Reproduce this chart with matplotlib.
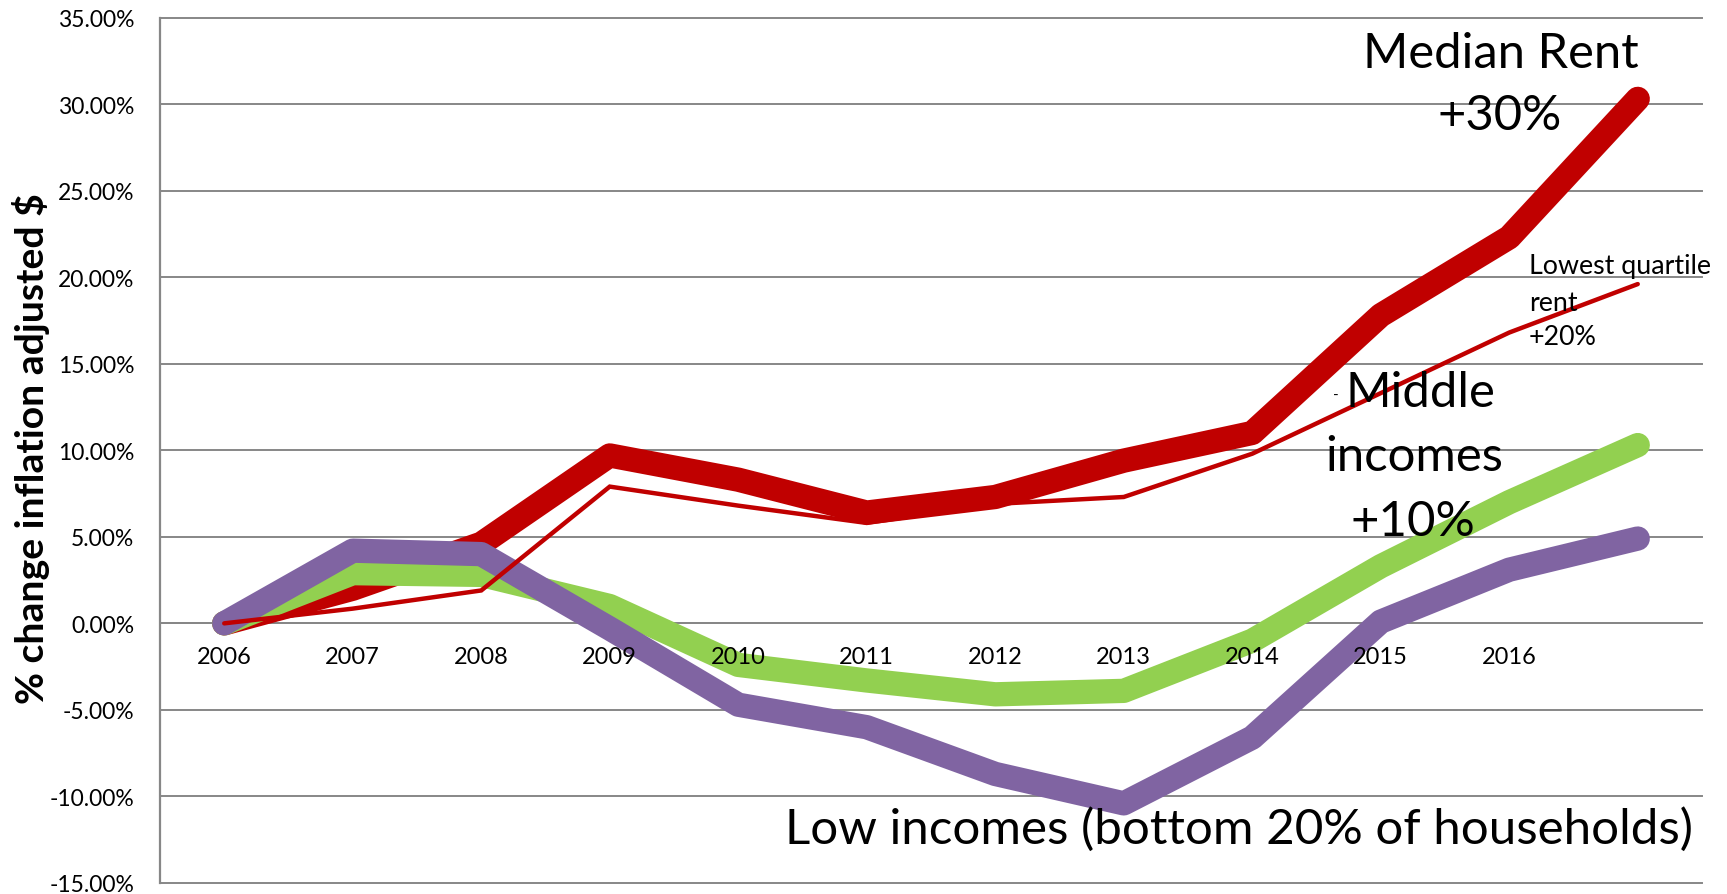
import matplotlib
matplotlib.use('Agg')
import matplotlib.pyplot as plt
import numpy as np

plt.rcParams['font.family'] = ['Lato', 'DejaVu Sans']

# ---- data (percent change, inflation adjusted $) ----
years = ['2006', '2007', '2008', '2009', '2010', '2011', '2012', '2013', '2014', '2015', '2016', '']
median_rent = [0.0, 2.0, 4.6, 9.7, 8.3, 6.4, 7.3, 9.4, 11.0, 17.8, 22.3, 30.3]
lowest_quartile_rent = [0.0, 0.85, 1.9, 7.9, 6.8, 5.8, 6.9, 7.3, 9.8, 13.3, 16.8, 19.6]
middle_incomes = [0.0, 2.9, 2.8, 1.0, -2.4, -3.3, -4.1, -3.9, -1.0, 3.3, 7.0, 10.3]
low_incomes = [0.0, 4.2, 4.0, -0.3, -4.7, -6.0, -8.7, -10.4, -6.6, 0.1, 3.1, 4.9]
yticks = list(range(-15, 36, 5))

W, H = 1727, 895
fig = plt.figure(figsize=(W / 100, H / 100), dpi=100)
left, right, top, bottom = 160, 1702, 18.5, 884
ax = fig.add_axes([left / W, 1 - bottom / H, (right - left) / W, (bottom - top) / H])

x = np.arange(len(years))
RED = '#C00000'
GREEN = '#92D050'
PURPLE = '#8064A2'
GRID = '#878787'

thick = dict(solid_capstyle='round', solid_joinstyle='round', lw=17.5)
ax.plot(x, median_rent, color=RED, zorder=3, **thick)
ax.plot(x, middle_incomes, color=GREEN, zorder=4, **thick)
ax.plot(x, low_incomes, color=PURPLE, zorder=5, **thick)
ax.plot(x, lowest_quartile_rent, color=RED, lw=3.2, zorder=6,
        solid_capstyle='round', solid_joinstyle='miter')

ax.set_xlim(-0.5, len(years) - 0.5)
ax.set_ylim(-15, 35)
ax.set_yticks(yticks)
ax.set_yticklabels([f'{v:.2f}%' for v in yticks])
ax.set_xticks(x)
ax.set_xticklabels(years)
ax.tick_params(axis='y', length=0, pad=18.5, labelsize=16.5)
ax.tick_params(axis='x', length=0, pad=16, labelsize=17)

ax.grid(axis='y', color=GRID, lw=1.4, zorder=1)
ax.set_axisbelow(True)
ax.xaxis.set_zorder(8)  # category labels sit on top of the lines
for gl in ax.get_ygridlines():
    gl.set_clip_on(False)
for s in ['top', 'right']:
    ax.spines[s].set_visible(False)
ax.spines['bottom'].set_position(('data', 0))
ax.spines['bottom'].set_color(GRID)
ax.spines['bottom'].set_linewidth(1.4)
ax.spines['bottom'].set_zorder(1)
ax.spines['left'].set_color(GRID)
ax.spines['left'].set_linewidth(1.6)

# ---- annotations ----
def px2data(px, py):
    dx = (px - left) / (right - left) * len(years) - 0.5
    dy = 35 - (py - top) / (bottom - top) * 50
    return dx, dy

def put(s, px, py, ha='center', size=30):
    dx, dy = px2data(px, py)
    return ax.text(dx, dy, s, ha=ha, va='baseline', fontsize=size, color='black', zorder=10)

t_med = put('Median Rent', 1501, 68)
t_30 = put('+30%', 1500, 130)
t_lq1 = put('Lowest quartile', 1529, 274, ha='left', size=14)
t_lq2 = put('rent', 1529, 310.6, ha='left', size=14)
t_lq3 = put('+20%', 1529, 344.7, ha='left', size=14)
t_mid1 = put('Middle', 1420, 407.5)
t_mid2 = put('incomes', 1414, 471.4)
t_mid3 = put('+10%', 1413, 536.4)
t_dash = put('-', 1336, 400, size=11)
t_low = put('Low incomes (bottom 20% of households)', 1239, 843.7)

ylab = fig.text(31 / W, 1 - 449 / H, '% change inflation adjusted $', rotation=90,
                ha='center', va='center', fontsize=24, fontweight='bold')

fig.canvas.draw()
r = fig.canvas.get_renderer()

def fit(t, target, others=(), dim='w'):
    bb = t.get_window_extent(r)
    cur = bb.width if dim == 'w' else bb.height
    fs = t.get_fontsize() * target / cur
    t.set_fontsize(fs)
    for o in others:
        o.set_fontsize(fs)

fit(t_med, 275, [t_30])
fit(t_lq1, 182, [t_lq2, t_lq3])
fit(t_mid2, 178, [t_mid1, t_mid3])
fit(t_low, 907)
fit(ylab, 512, dim='h')

fig.savefig('out.png', dpi=100)
